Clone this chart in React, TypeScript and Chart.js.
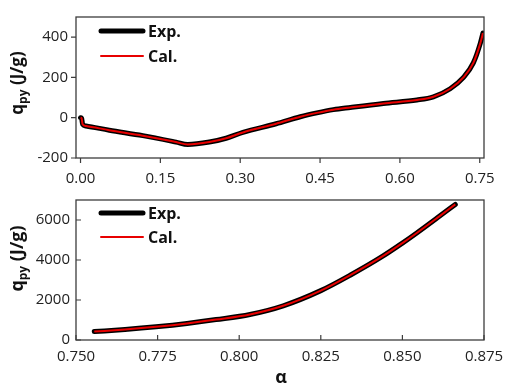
import React, { useEffect, useRef } from "react";
import { Chart, registerables } from "chart.js";
Chart.register(...registerables);

// ---- data ----
const topAlpha = [0.0, 0.002, 0.004, 0.0103, 0.054, 0.117, 0.1795, 0.2015, 0.242, 0.2735, 0.305, 0.3675, 0.413, 0.444, 0.475, 0.507, 0.569, 0.632, 0.663, 0.6945, 0.7195, 0.738, 0.751, 0.756];
const topExp = [0, -3, -33, -41, -62, -89, -121, -133, -121, -102, -73, -30, 5, 24, 40, 51, 71, 88, 104, 144, 200, 272, 369, 420];
const topCal = [0, -3, -33, -41, -62, -89, -121, -133, -121, -102, -73, -30, 5, 24, 40, 51, 71, 88, 104, 144, 200, 272, 369, 420];
const topXTicks = [0, 0.15, 0.3, 0.45, 0.6, 0.75];
const topYTicks = [-200, 0, 200, 400];

const bottomAlpha = [0.7556, 0.765, 0.7745, 0.784, 0.7929, 0.8033, 0.8135, 0.825, 0.834, 0.8441, 0.85, 0.8544, 0.8605, 0.8662];
const bottomExp = [420, 530, 665, 830, 1020, 1277, 1711, 2468, 3239, 4203, 4844, 5350, 6082, 6780];
const bottomCal = [420, 530, 665, 830, 1020, 1277, 1711, 2468, 3239, 4203, 4844, 5350, 6082, 6780];
const bottomXTicks = [0.75, 0.775, 0.8, 0.825, 0.85, 0.875];
const bottomYTicks = [0, 2000, 4000, 6000];

const legendLabels = ["Exp.", "Cal."];
const yTitleMain = "q";
const yTitleSub = "py";
const yTitleUnit = " (J/g)";
const xTitle = "\u03B1";

const FONT = '"Open Sans", "Noto Sans", sans-serif';
const EXP_COLOR = "#000000";
const CAL_COLOR = "#e80000";

type Cfg = {
  height: number;
  areaTop: number;
  areaBottom: number;
  xMin: number;
  xMax: number;
  yMin: number;
  yMax: number;
  alpha: number[];
  exp: number[];
  cal: number[];
  xTicks: number[];
  yTicks: number[];
  xDigits: number;
  inward: boolean;
  legendY: [number, number];
  titleCY: number;
  titleSize: number;
  xLabelPad: number;
  yLabelPad: number;
  showXTitle: boolean;
};

function makeChart(canvas: HTMLCanvasElement, c: Cfg) {
  const framePlugin = {
    id: "frameAndText",
    afterDraw(chart: any) {
      const { ctx, chartArea: a, scales } = chart;
      ctx.save();
      ctx.strokeStyle = "#3c3c3c";
      ctx.lineWidth = 1.3;
      ctx.strokeRect(a.left, a.top, a.right - a.left, a.bottom - a.top);
      const L = 5;
      const d = c.inward ? -1 : 1;
      ctx.beginPath();
      ctx.lineWidth = 1.2;
      for (const t of scales.x.ticks) {
        const px = scales.x.getPixelForValue(t.value);
        ctx.moveTo(px, a.bottom);
        ctx.lineTo(px, a.bottom + d * L);
      }
      for (const t of scales.y.ticks) {
        const py = scales.y.getPixelForValue(t.value);
        ctx.moveTo(a.left, py);
        ctx.lineTo(a.left - d * L, py);
      }
      ctx.stroke();

      // legend
      const lx1 = 101, lx2 = 143;
      const items = [
        { label: legendLabels[0], color: EXP_COLOR, w: 5 },
        { label: legendLabels[1], color: CAL_COLOR, w: 2 },
      ];
      items.forEach((it, i) => {
        const y = c.legendY[i];
        ctx.beginPath();
        ctx.strokeStyle = it.color;
        ctx.lineWidth = it.w;
        ctx.lineCap = "round";
        ctx.moveTo(lx1, y);
        ctx.lineTo(lx2, y);
        ctx.stroke();
        ctx.fillStyle = "#111";
        ctx.font = `bold 16px ${FONT}`;
        ctx.textAlign = "left";
        ctx.textBaseline = "middle";
        ctx.fillText(it.label, 148, y + 1);
      });

      // y title (rotated, with subscript)
      const mainFont = `bold ${c.titleSize}px ${FONT}`;
      const subFont = `bold ${Math.round(c.titleSize * 0.68)}px ${FONT}`;
      ctx.font = mainFont;
      const wq = ctx.measureText(yTitleMain).width;
      const wu = ctx.measureText(yTitleUnit).width;
      ctx.font = subFont;
      const ws = ctx.measureText(yTitleSub).width;
      const total = wq + ws + wu;
      ctx.translate(23, c.titleCY);
      ctx.rotate(-Math.PI / 2);
      ctx.fillStyle = "#111";
      ctx.textAlign = "left";
      ctx.textBaseline = "alphabetic";
      let x = -total / 2;
      ctx.font = mainFont;
      ctx.fillText(yTitleMain, x, 0);
      x += wq;
      ctx.font = subFont;
      ctx.fillText(yTitleSub, x, 4);
      x += ws;
      ctx.font = mainFont;
      ctx.fillText(yTitleUnit, x, 0);
      ctx.restore();

      if (c.showXTitle) {
        ctx.save();
        ctx.fillStyle = "#111";
        ctx.font = `bold 18px ${FONT}`;
        ctx.textAlign = "center";
        ctx.textBaseline = "middle";
        ctx.fillText(xTitle, (a.left + a.right) / 2 + 1, c.height - 14);
        ctx.restore();
      }
    },
  };

  const mk = (vals: number[]) => c.alpha.map((a, i) => ({ x: a, y: vals[i] }));

  return new Chart(canvas, {
    type: "line",
    data: {
      datasets: [
        {
          label: legendLabels[0],
          data: mk(c.exp),
          borderColor: EXP_COLOR,
          borderWidth: 5,
          pointRadius: 0,
          order: 1,
          cubicInterpolationMode: "monotone",
          borderCapStyle: "round",
          borderJoinStyle: "round",
        },
        {
          label: legendLabels[1],
          data: mk(c.cal),
          borderColor: CAL_COLOR,
          borderWidth: 2,
          pointRadius: 0,
          order: 0,
          cubicInterpolationMode: "monotone",
          borderJoinStyle: "round",
        },
      ],
    },
    options: {
      responsive: false,
      animation: false,
      events: [],
      layout: { padding: { left: 0, right: 32, top: c.areaTop, bottom: 0 } },
      plugins: { legend: { display: false }, tooltip: { enabled: false } },
      scales: {
        x: {
          type: "linear",
          min: c.xMin,
          max: c.xMax,
          afterBuildTicks: (s: any) => {
            s.ticks = c.xTicks.map((v) => ({ value: v }));
          },
          afterFit: (s: any) => {
            s.height = c.height - c.areaBottom;
          },
          grid: { display: false, drawTicks: false },
          border: { display: false },
          ticks: {
            autoSkip: false,
            maxRotation: 0,
            padding: c.xLabelPad,
            color: "#222",
            font: { family: FONT, size: 15 },
            callback: (v: any) => Number(v).toFixed(c.xDigits),
          },
        },
        y: {
          type: "linear",
          min: c.yMin,
          max: c.yMax,
          afterBuildTicks: (s: any) => {
            s.ticks = c.yTicks.map((v) => ({ value: v }));
          },
          afterFit: (s: any) => {
            s.width = 76;
          },
          grid: { display: false, drawTicks: false },
          border: { display: false },
          ticks: {
            padding: c.yLabelPad,
            color: "#222",
            font: { family: FONT, size: 15 },
            callback: (v: any) => String(v),
          },
        },
      },
    },
    plugins: [framePlugin],
  } as any);
}

export default function App() {
  const topRef = useRef<HTMLCanvasElement>(null);
  const botRef = useRef<HTMLCanvasElement>(null);

  useEffect(() => {
    const c1 = makeChart(topRef.current!, {
      height: 185,
      areaTop: 13,
      areaBottom: 158,
      xMin: -0.0085,
      xMax: 0.758,
      yMin: -200,
      yMax: 500,
      alpha: topAlpha,
      exp: topExp,
      cal: topCal,
      xTicks: topXTicks,
      yTicks: topYTicks,
      xDigits: 2,
      inward: false,
      legendY: [31, 56],
      titleCY: 83,
      titleSize: 17,
      xLabelPad: 12,
      yLabelPad: 8,
      showXTitle: false,
    });
    const c2 = makeChart(botRef.current!, {
      height: 207,
      areaTop: 11,
      areaBottom: 155,
      xMin: 0.75,
      xMax: 0.875,
      yMin: 0,
      yMax: 7000,
      alpha: bottomAlpha,
      exp: bottomExp,
      cal: bottomCal,
      xTicks: bottomXTicks,
      yTicks: bottomYTicks,
      xDigits: 3,
      inward: true,
      legendY: [28, 52],
      titleCY: 73.5,
      titleSize: 18,
      xLabelPad: 8,
      yLabelPad: 6,
      showXTitle: true,
    });
    return () => {
      c1.destroy();
      c2.destroy();
    };
  }, []);

  return (
    <div style={{ position: "absolute", left: 0, top: 0, width: 516, height: 392, background: "#fff" }}>
      <canvas ref={topRef} width={516} height={185} style={{ position: "absolute", left: 0, top: 0 }} />
      <canvas ref={botRef} width={516} height={207} style={{ position: "absolute", left: 0, top: 185 }} />
    </div>
  );
}
